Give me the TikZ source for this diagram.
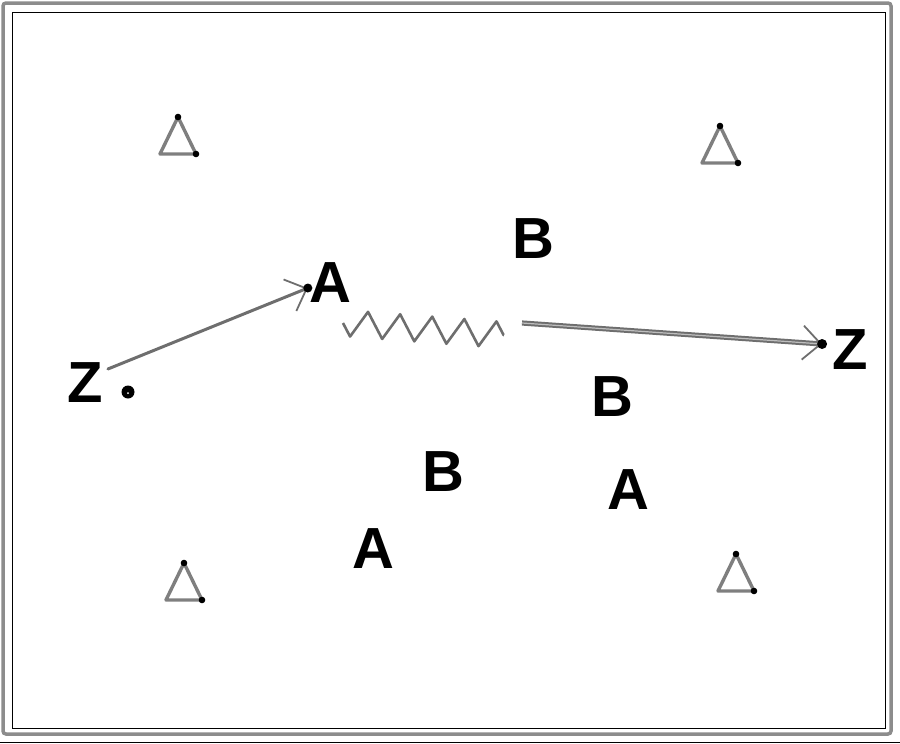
\documentclass[tikz,border=0pt]{standalone}
\usepackage{fontspec}
\setsansfont{Liberation Sans}
\usetikzlibrary{positioning,arrows.meta,decorations.pathmorphing}
\definecolor{line1}{HTML}{6E6E6E}
\definecolor{cone1}{HTML}{7F7F7F}
\definecolor{frame1}{HTML}{8C8C8C}

\begin{document}
\begin{tikzpicture}[
    x=1pt, y=-1pt,
    player/.style={font=\sffamily\bfseries\fontsize{58}{58}\selectfont,
                   inner sep=2pt},
    pass/.style={-{Straight Barb[length=18pt, width=34pt, line width=1.8pt]},
                 line width=3pt, draw=line1, line cap=round},
    run/.style={-{Straight Barb[length=18pt, width=34pt, line width=1.8pt]},
                draw=line1, line width=2pt, double=line1!45,
                double distance=1.2pt},
    dribble/.style={draw=line1, line width=2.6pt, line join=round,
                    decorate, decoration={zigzag, segment length=32.2pt,
                    amplitude=13pt, mirror}},
    tipdot/.style={fill=black},
    cone/.pic={
        \draw[line width=3.4pt, cone1, line join=round]
            (0,-19) -- (18,18) -- (-18,18) -- cycle;
        \fill (0,-19) circle (3.3);
        \fill (18,18) circle (3.3);
    },
]
\useasboundingbox (0,0) rectangle (900,744);

% ── field ──
\draw[line width=3.5pt, frame1, rounded corners=3pt] (3,3) rectangle (891,734);
\draw[line width=1pt] (12.5,12.5) rectangle (885,728);
\draw[line width=1pt] (0,742) -- (900,742);

% ── cones ──
\pic at (178,136) {cone};
\pic at (720,145) {cone};
\pic at (184,582) {cone};
\pic at (736,573) {cone};

% ── players ──
\node[player] (z1) at (85,383) {Z};
\node[player] (a1) at (330,283) {A};
\node[player] (b1) at (533,239) {B};
\node[player] (z2) at (850,350) {Z};
\node[player] (b2) at (612,397) {B};
\node[player] (b3) at (443,472) {B};
\node[player] (a2) at (628,490) {A};
\node[player] (a3) at (373,549) {A};

% ── ball ──
\fill (128,392) circle (6.5);
\fill[white] (128,393) circle (1);

% ── pass Z -> A ──
\coordinate (pstart) at ([xshift=3pt,yshift=14pt]z1.east);
\coordinate (ptip) at ([xshift=1pt,yshift=-5pt]a1.west);
\draw[pass] (pstart) -- (ptip);
\fill[tipdot] (ptip) circle (4.5);

% ── dribble ──
\coordinate (d1) at (343,323);
\coordinate (d2) at (504,335);
\draw[dribble] (d1) -- (d2);

% ── run to Z ──
\coordinate (r1) at (522,323);
\coordinate (rtip) at ([xshift=-8pt,yshift=6pt]z2.west);
\draw[run] (r1) -- (rtip);
\fill[tipdot] (rtip) circle (5);

\end{tikzpicture}
\end{document}
